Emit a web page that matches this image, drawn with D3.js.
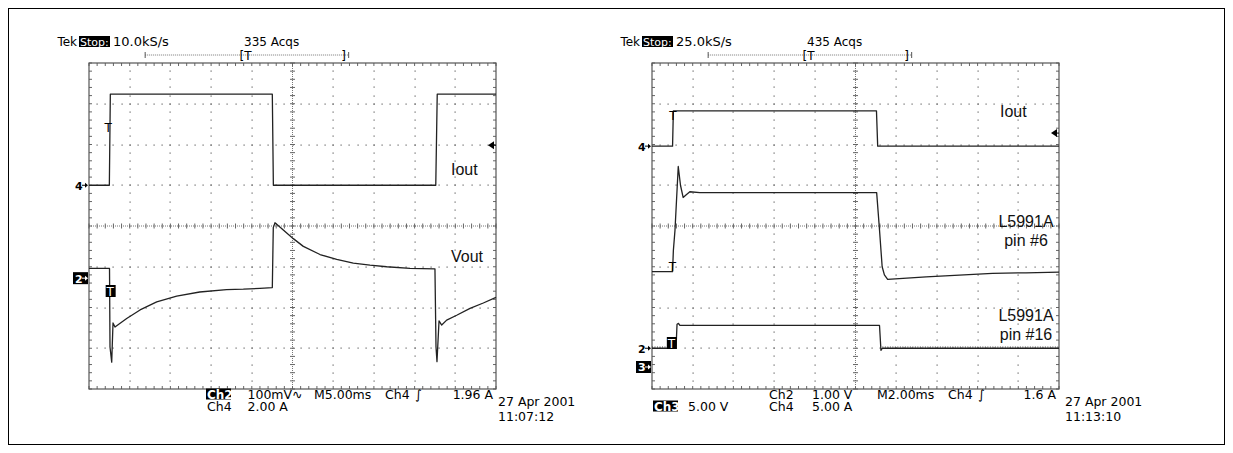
<!DOCTYPE html>
<html>
<head>
<meta charset="utf-8">
<script src="https://cdn.jsdelivr.net/npm/d3@7"></script>
<style>
  body { margin: 0; background: #fff; }
  text { font-family: "DejaVu Sans", sans-serif; }
</style>
</head>
<body>
<script>
// ---- left capture: 5.00 ms/div, Ch2 100 mV/div (Vout), Ch4 2.00 A/div (Iout)
const leftIoutT = [0, 2.5, 2.62, 22.52, 22.65, 42.6, 42.78, 50];
const leftIoutA = [0, 0, 4.47, 4.47, 0, 0, 4.47, 4.47];

const leftVoutT = [0, 2.52, 2.58, 2.79, 2.95, 3.19, 4.63, 6.27, 8.32, 10.77, 13.6, 16.9, 18.96, 21.0, 22.52,
  22.64, 22.85, 23.87, 25.1, 26.33, 28.38, 30.43, 32.47, 34.52, 36.57, 39.43, 42.5,
  42.63, 42.75, 43.0, 43.33, 43.94, 45.17, 46.81, 48.44, 50];
const leftVoutMv = [24, 24, -169, -206, -110, -120, -99, -78, -58, -44, -34, -28, -27, -25, -23,
  124, 136, 118, 97, 78, 58, 46, 37, 32, 28, 24, 23,
  -169, -205, -105, -115, -103, -91, -74, -61, -47];

// ---- right capture: 2.00 ms/div, Ch2 1.00 V/div (pin 16), Ch3 5.00 V/div (pin 6), Ch4 5.00 A/div (Iout)
const rightIoutT = [0, 1.01, 1.05, 11.03, 11.09, 20];
const rightIoutA = [0, 0, 4.33, 4.33, 0, 0];

const pin6T = [0, 1.01, 1.05, 1.13, 1.29, 1.40, 1.53, 1.67, 1.86, 2.35, 11.04, 11.18, 11.31, 11.42, 11.58,
  13.47, 15.1, 16.73, 18.37, 20];
const pin6V = [11.7, 11.7, 14.3, 16.8, 24.6, 22.3, 20.8, 21.1, 21.5, 21.4, 21.4, 16.8, 12.3, 11.3, 10.75,
  11.07, 11.27, 11.48, 11.56, 11.64];

const pin16T = [0, 1.18, 1.23, 1.30, 1.37, 11.18, 11.25, 11.32, 20];
const pin16V = [0, 0, 0.59, 0.61, 0.56, 0.56, -0.05, 0, 0];
// time spans where the pin 16 trace shows switching ripple
const pin16Ripple = [[0, 1.18], [11.32, 20]];

const zip = (a, b) => a.map((d, i) => [d, b[i]]);

const svg = d3.select('body').append('svg')
  .attr('width', 1233)
  .attr('height', 453);

// page frame
svg.append('rect')
  .attr('x', 8.5).attr('y', 8.5)
  .attr('width', 1216).attr('height', 436)
  .attr('fill', 'none').attr('stroke', '#000').attr('stroke-width', 1);

function createScope(x0, timeDiv) {
  const y0 = 63, w = 407, h = 326;
  const g = svg.append('g');

  const xdiv = d3.scaleLinear().domain([0, 10]).range([x0, x0 + w]);
  const ydiv = d3.scaleLinear().domain([-4, 4]).range([y0 + h, y0]);
  const xscale = d3.scaleLinear().domain([0, 10 * timeDiv]).range([x0, x0 + w]);

  const minorX = d3.range(0, 50.5).map((i) => i / 5);
  const minorY = d3.range(-20, 20.5).map((i) => i / 5);

  // dotted grid lines on major divisions
  const dots = [];
  d3.range(1, 10).filter((i) => i !== 5).forEach((i) => {
    minorY.slice(1, -1).forEach((v) => dots.push([i, v]));
  });
  d3.range(-3, 4).filter((j) => j !== 0).forEach((j) => {
    minorX.slice(1, -1).forEach((u) => dots.push([u, j]));
  });
  g.selectAll('.dot').data(dots).join('rect')
    .attr('class', 'dot')
    .attr('x', (d) => Math.round(xdiv(d[0])) - 0.5)
    .attr('y', (d) => Math.round(ydiv(d[1])) - 0.5)
    .attr('width', 1.2).attr('height', 1.2)
    .attr('fill', '#666');

  // centre cross
  g.append('line')
    .attr('x1', xdiv(0)).attr('x2', xdiv(10))
    .attr('y1', ydiv(0)).attr('y2', ydiv(0))
    .attr('stroke', '#777').attr('stroke-dasharray', '1,1');
  g.append('line')
    .attr('x1', xdiv(5)).attr('x2', xdiv(5))
    .attr('y1', ydiv(-4)).attr('y2', ydiv(4))
    .attr('stroke', '#777').attr('stroke-dasharray', '1,1');
  g.selectAll('.ctx').data(minorX).join('line')
    .attr('class', 'ctx')
    .attr('x1', (d) => xdiv(d)).attr('x2', (d) => xdiv(d))
    .attr('y1', ydiv(0) - 2.5).attr('y2', ydiv(0) + 2.5)
    .attr('stroke', '#666');
  g.selectAll('.cty').data(minorY).join('line')
    .attr('class', 'cty')
    .attr('x1', xdiv(5) - 2.5).attr('x2', xdiv(5) + 2.5)
    .attr('y1', (d) => ydiv(d)).attr('y2', (d) => ydiv(d))
    .attr('stroke', '#666');

  // border ticks
  g.selectAll('.btx').data(minorX).join('path')
    .attr('class', 'btx')
    .attr('d', (d) => `M${xdiv(d)},${ydiv(4)}v3M${xdiv(d)},${ydiv(-4)}v-3`)
    .attr('stroke', '#666');
  g.selectAll('.bty').data(minorY).join('path')
    .attr('class', 'bty')
    .attr('d', (d) => `M${xdiv(0)},${ydiv(d)}h3M${xdiv(10)},${ydiv(d)}h-3`)
    .attr('stroke', '#666');

  g.append('rect')
    .attr('x', x0).attr('y', y0).attr('width', w).attr('height', h)
    .attr('fill', 'none').attr('stroke', '#555').attr('stroke-width', 1.2);

  function channel(unitsPerDiv, offsetDiv) {
    return d3.scaleLinear()
      .domain([(-4 - offsetDiv) * unitsPerDiv, (4 - offsetDiv) * unitsPerDiv])
      .range([y0 + h, y0]);
  }

  function trace(data, yscale) {
    const line = d3.line().x((d) => xscale(d[0])).y((d) => yscale(d[1]));
    g.append('path').datum(data)
      .attr('d', line)
      .attr('fill', 'none')
      .attr('stroke', '#222')
      .attr('stroke-width', 1.3)
      .attr('stroke-linejoin', 'round');
  }

  return {g, x0, y0, w, h, xdiv, ydiv, xscale, channel, trace};
}

function label(g, x, y, str, anchor, size) {
  return g.append('text').attr('x', x).attr('y', y)
    .attr('text-anchor', anchor || 'start')
    .style('font-size', (size || 13) + 'px').attr('fill', '#000').text(str);
}

function boxLabel(g, x, y, str, width, size, bold) {
  g.append('rect').attr('x', x - 1).attr('y', y - 10).attr('width', width).attr('height', 11).attr('fill', '#000');
  label(g, x, y, str, 'start', size).attr('fill', '#fff').style('font-weight', bold === false ? 'normal' : 'bold');
}

function bigLabel(g, x, y, str, anchor) {
  g.append('text').attr('x', x).attr('y', y)
    .attr('text-anchor', anchor || 'start')
    .style('font-family', '"Liberation Sans", Arial, sans-serif')
    .style('font-size', '16px').attr('fill', '#111').text(str);
}

function groundMarker(s, num, y, inverse) {
  const x = s.x0;
  if (inverse) {
    s.g.append('rect').attr('x', x - 16).attr('y', y - 6).attr('width', 15).attr('height', 12).attr('fill', '#000');
  }
  const col = inverse ? '#fff' : '#000';
  s.g.append('text').attr('x', x - 14).attr('y', y + 4.5)
    .style('font-size', '11px').style('font-weight', 'bold').attr('fill', col).text(num);
  s.g.append('path').attr('d', `M${x - 7},${y}h5`).attr('stroke', col);
  s.g.append('path').attr('d', `M${x - 1},${y}l-3,-2.5v5z`).attr('fill', col);
}

function triggerArrow(s, y) {
  const x = s.x0 + s.w;
  s.g.append('path').attr('d', `M${x - 8},${y}l6,-4v8z`).attr('fill', '#000');
  s.g.append('path').attr('d', `M${x - 3},${y}h3`).attr('stroke', '#000');
}

function tMarker(s, x, y, boxed) {
  if (boxed) {
    s.g.append('rect').attr('x', x - 4.5).attr('y', y - 6).attr('width', 10).attr('height', 12).attr('fill', '#000');
  }
  s.g.append('text').attr('x', x).attr('y', y + 5)
    .attr('text-anchor', 'middle')
    .style('font-size', '12px').attr('fill', boxed ? '#fff' : '#000').text('T');
}

function header(s, rate, acqs) {
  const g = s.g, x = s.x0;
  label(g, x - 12, 46, 'Tek', 'end', 12);
  boxLabel(g, x - 9, 46, 'Stop:', 31, 11, false);
  label(g, x + 24, 46, rate, 'start', 13);
  label(g, x + 155, 46, acqs, 'start', 12);
  // record view bar
  const y = 55;
  g.append('line').attr('x1', s.xdiv(1.38)).attr('x2', s.xdiv(6.38)).attr('y1', y).attr('y2', y)
    .attr('stroke', '#777').attr('stroke-dasharray', '1,1');
  g.append('path').attr('d', `M${s.xdiv(1.38)},${y - 3}v6M${s.xdiv(6.38)},${y - 3}v6`).attr('stroke', '#555');
  label(g, s.xdiv(3.70), y + 5, '[T', 'start', 12);
  label(g, s.xdiv(6.2), y + 5, ']', 'start', 12);
}

function footer(s, lines) {
  const g = s.g, x = s.x0;
  lines.forEach((d) => {
    if (d.box) boxLabel(g, x + d.dx, d.y, d.text, d.box, 12);
    else label(g, x + d.dx, d.y, d.text, d.anchor, 12.5);
  });
}

// ---------------- left scope
const L = createScope(89, 5);
const lCh2 = L.channel(100, -1.28);
const lCh4 = L.channel(2, 1.0);
L.trace(zip(leftIoutT, leftIoutA), lCh4);
L.trace(zip(leftVoutT, leftVoutMv), lCh2);
groundMarker(L, '4', lCh4(0), false);
groundMarker(L, '2', lCh2(0), true);
triggerArrow(L, lCh4(1.96));
tMarker(L, L.xscale(2.35), 127, false);
tMarker(L, L.xscale(2.6), 291, true);
bigLabel(L.g, 451, 175, 'Iout');
bigLabel(L.g, 451, 262, 'Vout');
header(L, '10.0kS/s', '335 Acqs');
footer(L, [
  {dx: 118, y: 398.5, text: 'Ch2', box: 25},
  {dx: 158.5, y: 398.5, text: '100mV\u223F'},
  {dx: 225, y: 398.5, text: 'M5.00ms'},
  {dx: 296, y: 398.5, text: 'Ch4'},
  {dx: 326, y: 398.5, text: '\u222B'},
  {dx: 404, y: 398.5, text: '1.96 A', anchor: 'end'},
  {dx: 118, y: 410.5, text: 'Ch4'},
  {dx: 158.5, y: 410.5, text: '2.00 A'},
  {dx: 409, y: 406, text: '27 Apr 2001'},
  {dx: 409, y: 421, text: '11:07:12'}
]);

// ---------------- right scope
const R = createScope(652, 2);
const rCh2 = R.channel(1, -3.0);
const rCh3 = R.channel(5, -3.46);
const rCh4 = R.channel(5, 1.96);
R.trace(zip(rightIoutT, rightIoutA), rCh4);
R.trace(zip(pin6T, pin6V), rCh3);
R.trace(zip(pin16T, pin16V), rCh2);
// ripple on the low level of pin 16
pin16Ripple.forEach((span) => {
  R.g.append('line')
    .attr('x1', R.xscale(span[0])).attr('x2', R.xscale(span[1]))
    .attr('y1', rCh2(0) - 1.2).attr('y2', rCh2(0) - 1.2)
    .attr('stroke', '#333').attr('stroke-dasharray', '1,1.5');
});
groundMarker(R, '4', rCh4(0), false);
groundMarker(R, '2', rCh2(0), false);
groundMarker(R, '3', rCh3(0), true);
triggerArrow(R, rCh4(1.6));
tMarker(R, R.xscale(1.03), 115, false);
tMarker(R, R.xscale(1.0), 266, false);
tMarker(R, R.xscale(0.95), 343, true);
bigLabel(R.g, 1000, 117, 'Iout');
bigLabel(R.g, 1026, 227, 'L5991A', 'middle');
bigLabel(R.g, 1026, 246, 'pin #6', 'middle');
bigLabel(R.g, 1026, 321, 'L5991A', 'middle');
bigLabel(R.g, 1026, 340, 'pin #16', 'middle');
header(R, '25.0kS/s', '435 Acqs');
footer(R, [
  {dx: 2, y: 410.5, text: 'Ch3', box: 25},
  {dx: 36, y: 410.5, text: '5.00 V'},
  {dx: 117, y: 398.5, text: 'Ch2'},
  {dx: 160, y: 398.5, text: '1.00 V'},
  {dx: 225, y: 398.5, text: 'M2.00ms'},
  {dx: 296, y: 398.5, text: 'Ch4'},
  {dx: 326, y: 398.5, text: '\u222B'},
  {dx: 404, y: 398.5, text: '1.6 A', anchor: 'end'},
  {dx: 117, y: 410.5, text: 'Ch4'},
  {dx: 160, y: 410.5, text: '5.00 A'},
  {dx: 413, y: 406, text: '27 Apr 2001'},
  {dx: 413, y: 421, text: '11:13:10'}
]);
</script>
</body>
</html>
